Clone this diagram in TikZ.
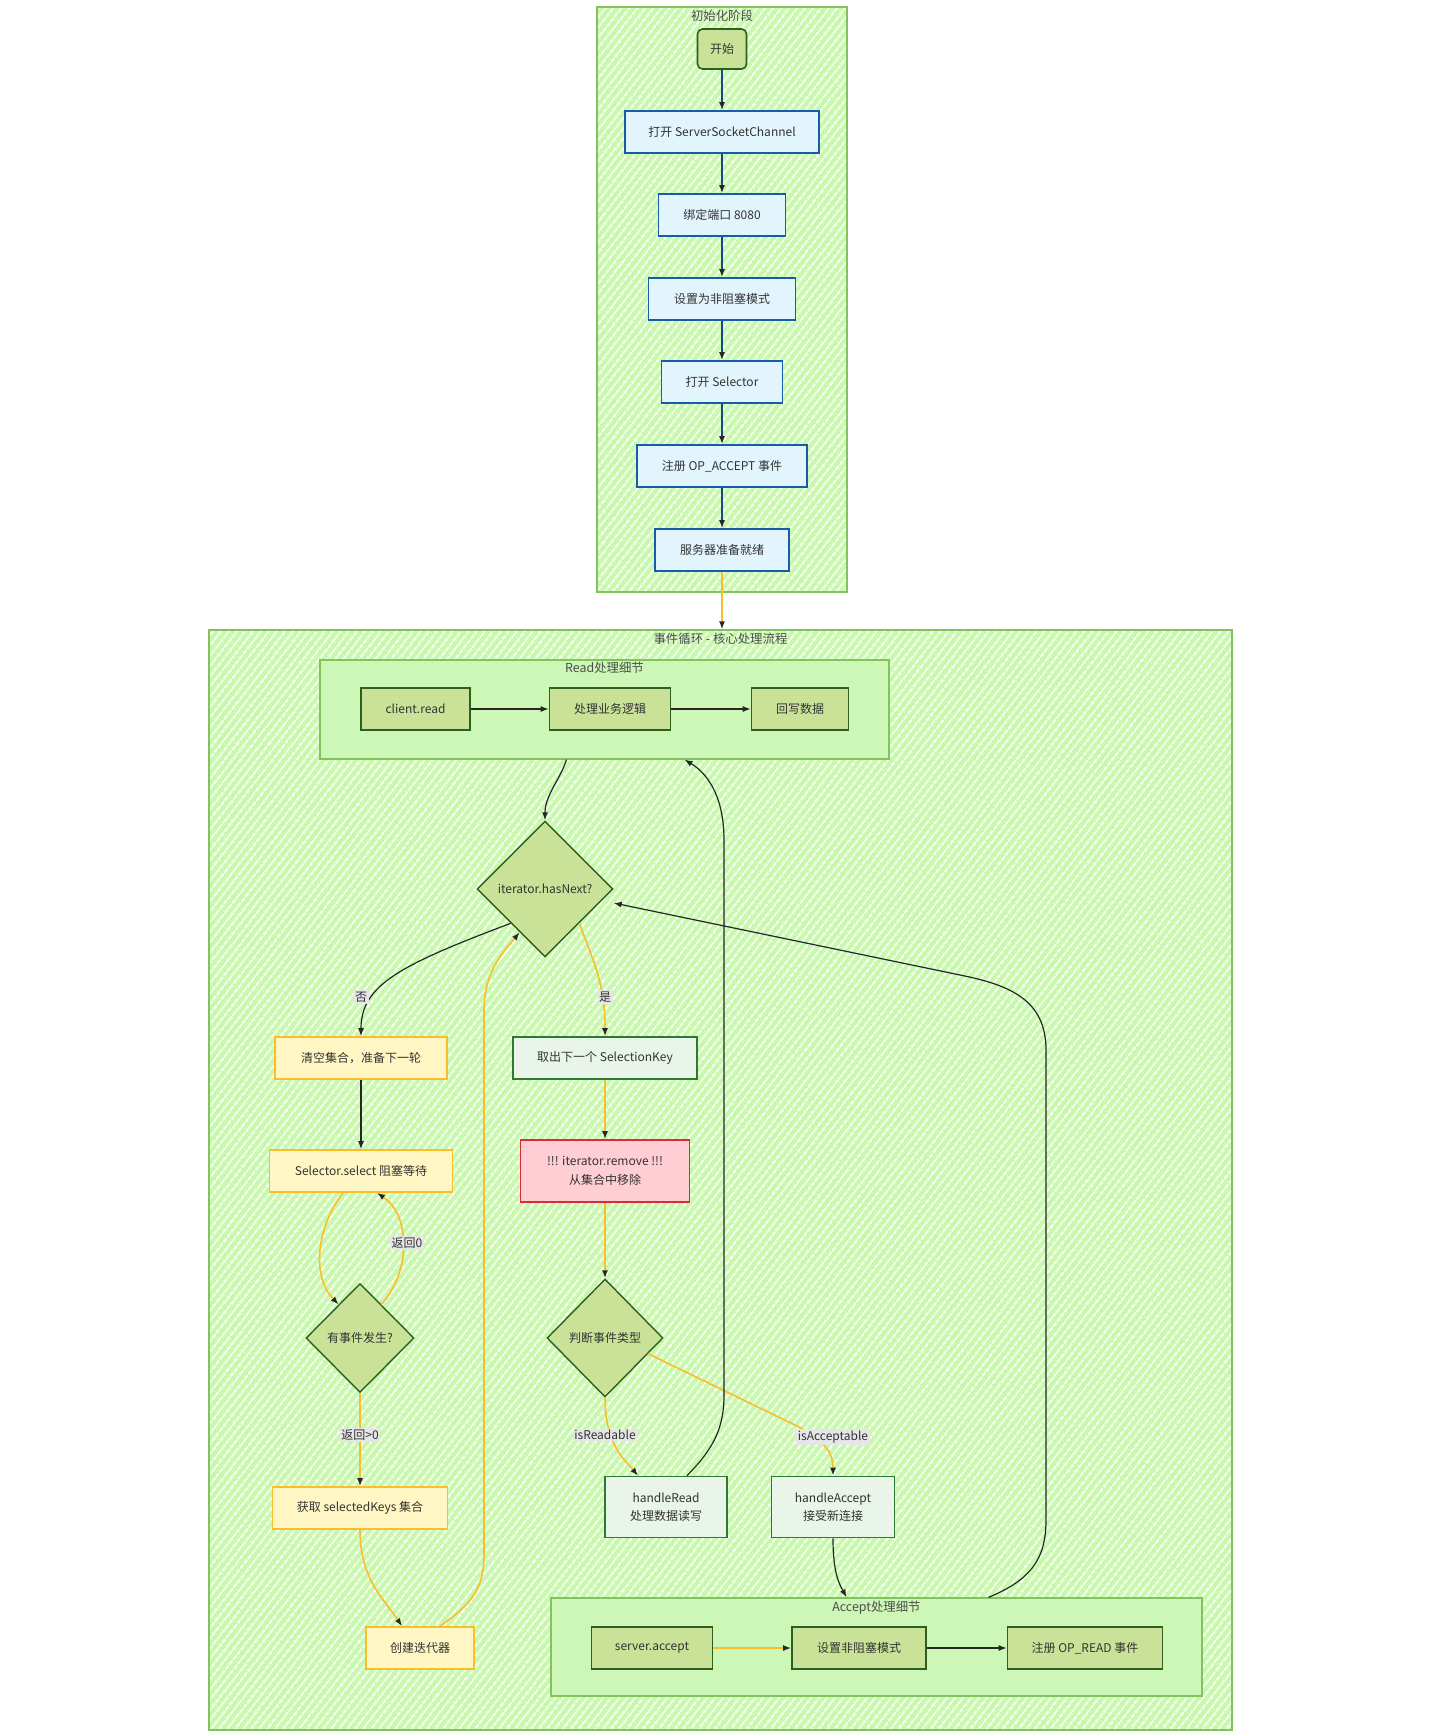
\documentclass[tikz,border=0pt]{standalone}
\usepackage{fontspec}
\setmainfont{Noto Sans CJK SC}
\usetikzlibrary{shapes.geometric,arrows.meta,patterns.meta}

\definecolor{C1}{RGB}{200,248,172}
\definecolor{C2}{RGB}{130,195,95}
\definecolor{C3}{RGB}{205,247,182}
\definecolor{C4}{RGB}{202,226,152}
\definecolor{C5}{RGB}{45,95,30}
\definecolor{C6}{RGB}{226,244,252}
\definecolor{C7}{RGB}{22,92,170}
\definecolor{C8}{RGB}{255,246,196}
\definecolor{C9}{RGB}{250,190,45}
\definecolor{C10}{RGB}{232,245,232}
\definecolor{C11}{RGB}{46,120,50}
\definecolor{C12}{RGB}{255,206,212}
\definecolor{C13}{RGB}{215,45,55}
\definecolor{C14}{RGB}{230,230,232}

\tikzset{
    txt/.style={font=\fontsize{12}{18.5}\selectfont, text=black!80},
    box/.style={txt, draw, line width=1.6pt, minimum height=42pt, align=center, inner sep=3pt},
    initbox/.style={box, fill=C6, draw=C7},
    startbox/.style={box, fill=C4, draw=C5, rounded corners=5pt},
    olivebox/.style={box, fill=C4, draw=C5},
    waitbox/.style={box, fill=C8, draw=C9},
    keybox/.style={box, fill=C10, draw=C11},
    warnbox/.style={box, fill=C12, draw=C13},
    decision/.style={txt, diamond, aspect=1, draw=C5, fill=C4, line width=1.4pt, inner sep=0pt},
    cluster/.style={draw=C2, line width=1.2pt, preaction={fill=C1},
                    pattern={Lines[angle=52,distance=6.5pt,line width=2pt]}, pattern color=white},
    subcluster/.style={draw=C2, line width=1.2pt, fill=C3},
    grouptitle/.style={font=\fontsize{12.4}{15}\selectfont, text=black!70, anchor=north, inner sep=1pt},
    flow/.style={-{Latex[length=8pt,width=6pt,color=black!85]}, line width=1.2pt, draw=black!85},
    hot/.style={flow, draw=C9, line width=1.6pt},
    setup/.style={flow, draw=C7!80!black, line width=1.6pt},
    tag/.style={txt, fill=C14, inner sep=1.5pt},
}

\begin{document}
\begin{tikzpicture}[x=1pt, y=-1pt]
    \useasboundingbox (0,0) rectangle (1440,1735);

    \node[cluster, minimum width=250pt, minimum height=585pt] (init) at (722,299.5) {};
    \node[grouptitle] (initlabel) at (722,9) {初始化阶段};

    \node[startbox, minimum width=49pt, minimum height=40pt] (start) at (722,49) {开始};
    \node[initbox, minimum width=194pt] (open) at (722,132) {打开 ServerSocketChannel};
    \node[initbox, minimum width=127pt] (bind) at (722,215) {绑定端口 8080};
    \node[initbox, minimum width=147pt] (nonblock) at (722,299) {设置为非阻塞模式};
    \node[initbox, minimum width=121pt] (selector) at (722,382) {打开 Selector};
    \node[initbox, minimum width=170pt] (regaccept) at (722,466) {注册 OP\_ACCEPT 事件};
    \node[initbox, minimum width=134pt] (ready) at (722,550) {服务器准备就绪};

    \node[cluster, minimum width=1023pt, minimum height=1100pt] (loop) at (720.5,1180) {};
    \node[grouptitle] (looplabel) at (720.5,632) {事件循环 - 核心处理流程};

    \node[subcluster, minimum width=569pt, minimum height=99pt] (readgrp) at (604.5,709.5) {};
    \node[grouptitle] (readlabel) at (604.5,661) {Read处理细节};
    \node[olivebox, minimum width=109pt] (clientread) at (415.5,709) {client.read};
    \node[olivebox, minimum width=121pt] (logic) at (610,709) {处理业务逻辑};
    \node[olivebox, minimum width=97pt] (writeback) at (800,709) {回写数据};

    \node[decision, minimum width=136pt, minimum height=136pt] (hasnext) at (545,889) {iterator.hasNext?};
    \node[waitbox, minimum width=172pt] (clear) at (361,1058) {清空集合，准备下一轮};
    \node[keybox, minimum width=184pt] (take) at (605,1058) {取出下一个 SelectionKey};
    \node[waitbox, minimum width=183pt] (select) at (361,1171) {Selector.select 阻塞等待};
    \node[warnbox, minimum width=169pt, minimum height=62pt] (remove) at (605,1171) {!!! iterator.remove !!!\\从集合中移除};
    \node[decision, minimum width=108pt, minimum height=109pt] (event) at (360,1338) {有事件发生?};
    \node[decision, minimum width=116pt, minimum height=118pt] (judge) at (605,1338) {判断事件类型};
    \node[waitbox, minimum width=175pt] (getkeys) at (360,1508) {获取 selectedKeys 集合};
    \node[keybox, minimum width=122pt, minimum height=61pt] (hread) at (666,1507) {handleRead\\处理数据读写};
    \node[keybox, minimum width=123pt, minimum height=61pt] (hacc) at (833,1507) {handleAccept\\接受新连接};
    \node[waitbox, minimum width=108pt] (iter) at (420,1648) {创建迭代器};

    \node[subcluster, minimum width=651pt, minimum height=98pt] (accgrp) at (876.5,1647) {};
    \node[grouptitle] (acclabel) at (876.5,1600) {Accept处理细节};
    \node[olivebox, minimum width=121pt] (srvaccept) at (652,1648) {server.accept};
    \node[olivebox, minimum width=134pt] (nonblock2) at (859,1648) {设置非阻塞模式};
    \node[olivebox, minimum width=155pt] (regread) at (1085,1648) {注册 OP\_READ 事件};

    \foreach \a/\b in {start/open, open/bind, bind/nonblock, nonblock/selector,
                       selector/regaccept, regaccept/ready}
        \draw[setup] (\a) -- (\b);
    \draw[hot] (ready) -- (ready.south |- loop.north);

    \draw[flow] (clientread) -- (logic);
    \draw[flow] (logic) -- (writeback);
    \draw[flow] ([xshift=-38pt]readgrp.south) .. controls (560,780) and (545,795) .. (hasnext.north);
    \draw[flow] (hasnext.south west) .. controls (400,965) and (361,985) .. (clear.north);
    \draw[hot] (hasnext.south east) .. controls (595,965) and (605,985) .. (take.north);
    \draw[flow] (clear) -- (select);
    \draw[hot] (take) -- (remove);
    \draw[hot] (remove) -- (judge);
    \draw[hot] ([xshift=-18pt]select.south) .. controls (318,1225) and (310,1275) .. ([xshift=6pt,yshift=6pt]event.north west);
    \draw[hot] ([xshift=-6pt,yshift=6pt]event.north east) .. controls (412,1270) and (410,1215) .. ([xshift=16pt]select.south);
    \draw[hot] (event) -- (getkeys);
    \draw[hot] (getkeys.south) .. controls (360,1580) and (385,1600) .. ([xshift=-18pt]iter.north);
    \draw[hot] ([xshift=20pt]iter.north) .. controls (470,1605) and (484,1590) .. (484,1555)
               -- (484,1010) .. controls (484,970) and (505,950) .. ([xshift=9pt,yshift=-9pt]hasnext.south west);
    \draw[hot] (judge.south) .. controls (605,1445) and (625,1460) .. ([xshift=-28pt]hread.north);
    \draw[hot] ([xshift=14pt,yshift=14pt]judge.south east) -- (797,1426) .. controls (822,1440) and (833,1450) .. (hacc.north);
    \draw[flow] ([xshift=21pt]hread.north) .. controls (712,1450) and (724,1430) .. (724,1395)
                -- (724,840) .. controls (724,800) and (710,775) .. ([xshift=80pt]readgrp.south);
    \draw[flow] (hacc.south) .. controls (833,1575) and (840,1585) .. ([xshift=-30pt]accgrp.north);
    \draw[flow] ([xshift=112pt]accgrp.north) .. controls (1030,1580) and (1046,1560) .. (1046,1520)
                -- (1046,1050) .. controls (1046,1000) and (1010,985) .. (960,975) -- ([yshift=-14pt]hasnext.east);
    \draw[hot] (srvaccept) -- (nonblock2);
    \draw[flow] (nonblock2) -- (regread);

    \node[tag] (no) at (361,997) {否};
    \node[tag] (yes) at (605,997) {是};
    \node[tag] (zero) at (407,1243) {返回0};
    \node[tag] (positive) at (360,1435) {返回>0};
    \node[tag] (readable) at (605,1435) {isReadable};
    \node[tag] (acceptable) at (833,1437) {isAcceptable};
\end{tikzpicture}
\end{document}
